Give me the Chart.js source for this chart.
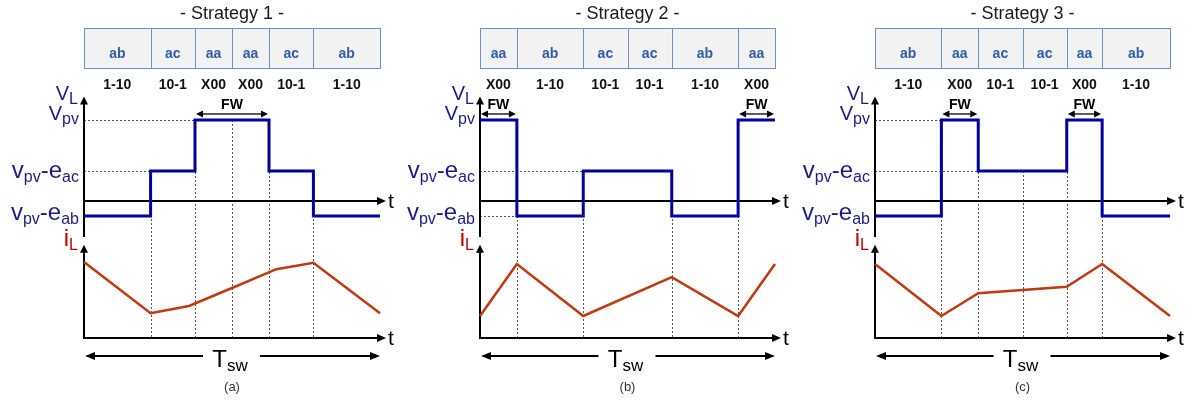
<!DOCTYPE html>
<html>
<head>
<meta charset="utf-8">
<script src="https://cdn.jsdelivr.net/npm/chart.js@4.4.0/dist/chart.umd.min.js"></script>
<style>
  body { margin: 0; background: #fff; }
  #wrap { position: relative; width: 1195px; height: 403px; overflow: hidden; }
  canvas { position: absolute; top: 0; }
</style>
</head>
<body>
<div id="wrap">
  <canvas id="c1" width="400" height="403" style="left:0px"></canvas>
  <canvas id="c2" width="400" height="403" style="left:400px"></canvas>
  <canvas id="c3" width="400" height="403" style="left:795px"></canvas>
</div>
<script>
// time in units of Tsw (0..1)
const titles = ['- Strategy 1 -', '- Strategy 2 -', '- Strategy 3 -'];
const captions = ['(a)', '(b)', '(c)'];

const bounds1 = [0, 0.225, 0.375, 0.5, 0.625, 0.775, 1];
const states1 = ['ab', 'ac', 'aa', 'aa', 'ac', 'ab'];
const vectors1 = ['1-10', '10-1', 'X00', 'X00', '10-1', '1-10'];
const guides1 = [1, 2, 3, 4, 5];
const iLTime1 = [0, 0.225, 0.355, 0.5, 0.65, 0.775, 1];
const iL1 = [0.95, 0.31, 0.40, 0.625, 0.86, 0.94, 0.31];

const bounds2 = [0, 0.125, 0.35, 0.5, 0.65, 0.875, 1];
const states2 = ['aa', 'ab', 'ac', 'ac', 'ab', 'aa'];
const vectors2 = ['X00', '1-10', '10-1', '10-1', '1-10', 'X00'];
const guides2 = [1, 2, 4, 5];
const iLTime2 = [0, 0.125, 0.35, 0.65, 0.875, 1];
const iL2 = [0.275, 0.925, 0.275, 0.76, 0.275, 0.925];

const bounds3 = [0, 0.225, 0.35, 0.5, 0.65, 0.77, 1];
const states3 = ['ab', 'aa', 'ac', 'ac', 'aa', 'ab'];
const vectors3 = ['1-10', 'X00', '10-1', '10-1', 'X00', '1-10'];
const guides3 = [1, 2, 3, 4, 5];
const iLTime3 = [0, 0.225, 0.35, 0.65, 0.77, 1];
const iL3 = [0.925, 0.275, 0.56, 0.64, 0.925, 0.275];

// v_L levels: V_pv, v_pv - e_ac, v_pv - e_ab
const levelStates = ['aa', 'ac', 'ab'];
const levelValues = [1, 0.37, -0.185];
const levelLabels = [
  [['V', 2], ['pv', 1]],
  [['v', 0], ['pv', 1], ['-e', 0], ['ac', 1]],
  [['v', 0], ['pv', 1], ['-e', 0], ['ab', 1]]
];

const FONT = '"Liberation Sans", Arial, sans-serif';
const BLUE = '#0000a0';
const RED = '#c0390f';
const LABEL_BLUE = '#1c1c86';

function levelOf(s) { return levelValues[levelStates.indexOf(s)]; }

function head(ctx, x, y, ang, len, half) {
  const c = Math.cos(ang), s = Math.sin(ang);
  ctx.beginPath();
  ctx.moveTo(x, y);
  ctx.lineTo(x - len * c + half * s, y - len * s - half * c);
  ctx.lineTo(x - len * c - half * s, y - len * s + half * c);
  ctx.closePath();
  ctx.fill();
}

function arrowLine(ctx, x0, y0, x1, y1, w, len, half) {
  const ang = Math.atan2(y1 - y0, x1 - x0);
  ctx.lineWidth = w;
  ctx.beginPath();
  ctx.moveTo(x0, y0);
  ctx.lineTo(x1 - (len - 1) * Math.cos(ang), y1 - (len - 1) * Math.sin(ang));
  ctx.stroke();
  head(ctx, x1, y1, ang, len, half);
}

// parts: [text, kind] kind 0 = main, 1 = subscript, 2 = capital main
function richText(ctx, parts, x, y, color, big, small, align) {
  ctx.fillStyle = color;
  ctx.textAlign = 'left';
  ctx.textBaseline = 'alphabetic';
  const sizeOf = kind => kind === 1 ? small : kind === 2 ? Math.round(big * 0.84) : big;
  const widths = parts.map(p => {
    ctx.font = sizeOf(p[1]) + 'px ' + FONT;
    return ctx.measureText(p[0]).width;
  });
  const total = widths.reduce((a, b) => a + b, 0);
  let cx = align === 'right' ? x - total : align === 'center' ? x - total / 2 : x;
  parts.forEach((p, i) => {
    ctx.font = sizeOf(p[1]) + 'px ' + FONT;
    ctx.fillText(p[0], cx, p[1] === 1 ? y + 4 : y);
    cx += widths[i];
  });
}

function diagramPlugin(p) {
  return {
    id: 'diagram' + p.idx,
    beforeDatasetsDraw(chart) {
      const ctx = chart.ctx;
      const xs = chart.scales.x, yv = chart.scales.yv, yi = chart.scales.yi;
      const x0 = xs.getPixelForValue(0), x1 = xs.getPixelForValue(1);
      const iZero = yi.getPixelForValue(0);
      ctx.save();
      // dotted guides
      ctx.strokeStyle = '#555';
      ctx.lineWidth = 1;
      ctx.setLineDash([2, 2]);
      p.guides.forEach(k => {
        const x = Math.round(xs.getPixelForValue(p.bounds[k])) + 0.5;
        const v = Math.max(levelOf(p.states[k - 1]), levelOf(p.states[k]));
        ctx.beginPath();
        ctx.moveTo(x, yv.getPixelForValue(v));
        ctx.lineTo(x, iZero);
        ctx.stroke();
      });
      levelStates.forEach((s, j) => {
        const k = p.states.indexOf(s);
        if (k > 0) {
          const y = Math.round(yv.getPixelForValue(levelValues[j])) + 0.5;
          ctx.beginPath();
          ctx.moveTo(x0, y);
          ctx.lineTo(xs.getPixelForValue(p.bounds[k]), y);
          ctx.stroke();
        }
      });
      ctx.setLineDash([]);
      // axes
      ctx.strokeStyle = '#000';
      ctx.fillStyle = '#000';
      arrowLine(ctx, x0, yv.getPixelForValue(-0.445), x0, yv.getPixelForValue(1.29), 2, 8, 4);
      arrowLine(ctx, x0 - 1, yv.getPixelForValue(0), x1 + 6, yv.getPixelForValue(0), 2, 9, 4);
      arrowLine(ctx, x0, iZero + 1, x0, yi.getPixelForValue(1.165), 2, 8, 4);
      arrowLine(ctx, x0 - 1, iZero, x1 + 6, iZero, 2, 9, 4);
      ctx.restore();
    },
    afterDatasetsDraw(chart) {
      const ctx = chart.ctx;
      const xs = chart.scales.x, yv = chart.scales.yv, yi = chart.scales.yi;
      const x0 = xs.getPixelForValue(0), x1 = xs.getPixelForValue(1);
      const xc = (x0 + x1) / 2;
      ctx.save();
      // title
      ctx.fillStyle = '#1a1a1a';
      ctx.font = '18px ' + FONT;
      ctx.textAlign = 'center';
      ctx.fillText(p.title, xc, 19);
      // state bar and switching vectors
      p.states.forEach((s, k) => {
        const a = xs.getPixelForValue(p.bounds[k]), b = xs.getPixelForValue(p.bounds[k + 1]);
        ctx.fillStyle = '#f2f2f2';
        ctx.fillRect(a, 28, b - a, 40);
        ctx.strokeStyle = '#6f8fc8';
        ctx.lineWidth = 1;
        ctx.strokeRect(Math.round(a) + 0.5, 28.5, Math.round(b) - Math.round(a), 40);
        ctx.fillStyle = '#2f5da8';
        ctx.font = 'bold 14px ' + FONT;
        ctx.textAlign = 'center';
        ctx.fillText(s, (a + b) / 2, 58);
        ctx.fillStyle = '#111';
        ctx.fillText(p.vectors[k], (a + b) / 2, 89);
      });
      // FW arrows over runs of 'aa'
      let k = 0;
      while (k < p.states.length) {
        if (p.states[k] === 'aa') {
          let e = k;
          while (e + 1 < p.states.length && p.states[e + 1] === 'aa') e++;
          const a = xs.getPixelForValue(p.bounds[k]), b = xs.getPixelForValue(p.bounds[e + 1]);
          ctx.fillStyle = '#000';
          ctx.strokeStyle = '#000';
          ctx.font = 'bold 14px ' + FONT;
          ctx.textAlign = 'center';
          ctx.fillText('FW', (a + b) / 2, 109);
          const m = (a + b) / 2;
          arrowLine(ctx, m, 114, a + 1, 114, 1.3, 7, 3.5);
          arrowLine(ctx, m, 114, b - 1, 114, 1.3, 7, 3.5);
          k = e + 1;
        } else k++;
      }
      // level labels
      const offs = [0, 7, 4];
      levelValues.forEach((v, j) => {
        richText(ctx, levelLabels[j], x0 - 5, yv.getPixelForValue(v) + offs[j], LABEL_BLUE, 24, 16, 'right');
      });
      richText(ctx, [['V', 2], ['L', 1]], x0 - 6, yv.getPixelForValue(1.29) + 3, LABEL_BLUE, 24, 16, 'right');
      richText(ctx, [['i', 0], ['L', 1]], x0 - 6, yi.getPixelForValue(1.165) + 1, '#c00000', 24, 16, 'right');
      // t labels
      ctx.fillStyle = '#000';
      ctx.font = '21px ' + FONT;
      ctx.textAlign = 'left';
      ctx.fillText('t', x1 + 8, yv.getPixelForValue(0) + 7);
      ctx.fillText('t', x1 + 8, yi.getPixelForValue(0) + 7);
      // Tsw
      ctx.strokeStyle = '#000';
      arrowLine(ctx, xc - 29, 356, x0 + 1, 356, 2, 10, 4);
      arrowLine(ctx, xc + 28, 356, x1, 356, 2, 10, 4);
      richText(ctx, [['T', 0], ['sw', 1]], xc - 2, 367, '#000', 24, 17, 'center');
      ctx.fillStyle = '#333';
      ctx.font = '13px ' + FONT;
      ctx.textAlign = 'center';
      ctx.fillText(p.caption, xc, 391);
      ctx.restore();
    }
  };
}

function makeChart(id, p, padL, padR) {
  const vData = p.states.map((s, k) => ({ x: p.bounds[k], y: levelOf(s) }));
  vData.push({ x: 1, y: levelOf(p.states[p.states.length - 1]) });
  const iData = p.iTime.map((t, k) => ({ x: t, y: p.iL[k] }));
  return new Chart(document.getElementById(id), {
    type: 'line',
    data: {
      datasets: [
        { data: vData, yAxisID: 'yv', stepped: 'before', borderColor: BLUE, borderWidth: 3,
          pointRadius: 0, borderJoinStyle: 'miter', clip: false },
        { data: iData, yAxisID: 'yi', borderColor: RED, borderWidth: 2.5,
          pointRadius: 0, tension: 0, clip: false }
      ]
    },
    options: {
      responsive: false,
      animation: false,
      layout: { padding: { left: padL, right: padR, top: 90, bottom: 58 } },
      plugins: { legend: { display: false }, tooltip: { enabled: false } },
      scales: {
        x: { type: 'linear', min: 0, max: 1, display: false },
        yv: { type: 'linear', min: -1.7778, max: 1.3704, display: false },
        yi: { type: 'linear', min: -0.0875, max: 3.1, display: false }
      }
    },
    plugins: [diagramPlugin(p)]
  });
}

makeChart('c1', { idx: 1, title: titles[0], caption: captions[0], bounds: bounds1, states: states1,
  vectors: vectors1, guides: guides1, iTime: iLTime1, iL: iL1 }, 84, 20);
makeChart('c2', { idx: 2, title: titles[1], caption: captions[1], bounds: bounds2, states: states2,
  vectors: vectors2, guides: guides2, iTime: iLTime2, iL: iL2 }, 80, 25);
makeChart('c3', { idx: 3, title: titles[2], caption: captions[2], bounds: bounds3, states: states3,
  vectors: vectors3, guides: guides3, iTime: iLTime3, iL: iL3 }, 80, 25);
</script>
</body>
</html>
